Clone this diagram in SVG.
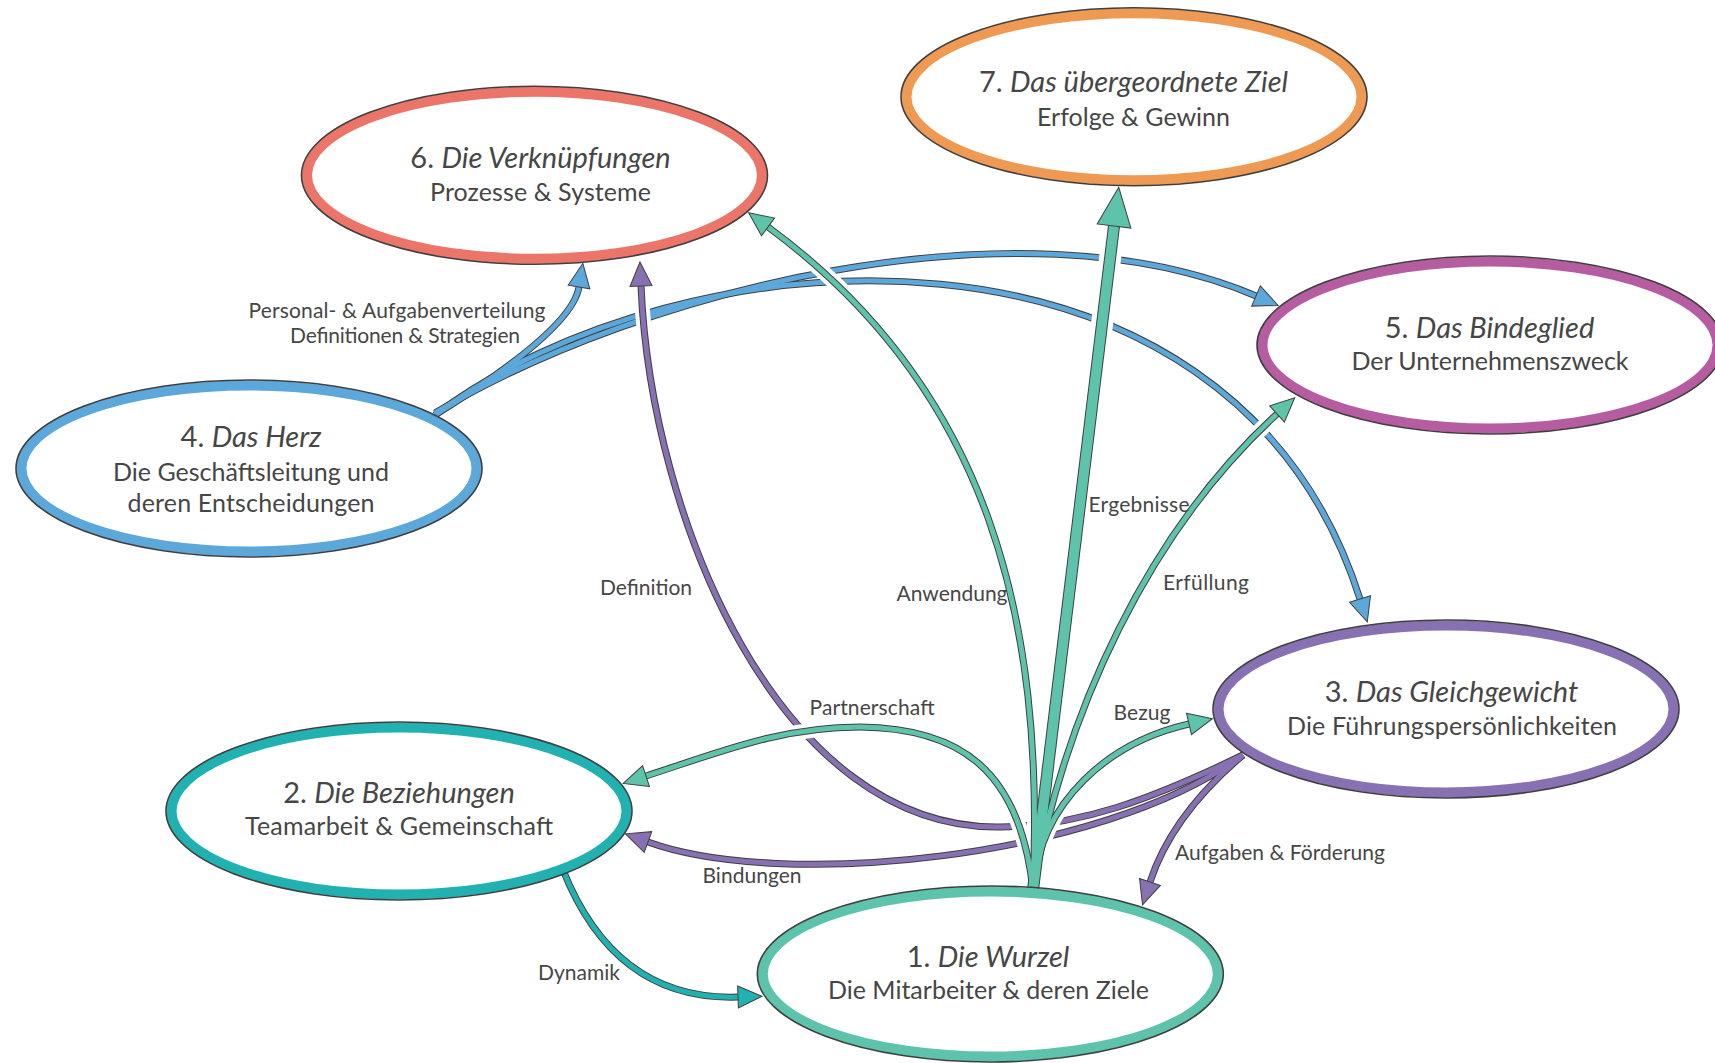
<svg xmlns="http://www.w3.org/2000/svg" width="1715" height="1063" viewBox="0 0 1715 1063">
<defs>
<style>
.halo{fill:none;stroke:#ffffff;stroke-width:15}
.halo-big{fill:none;stroke:#ffffff;stroke-width:22}
.cas{fill:none;stroke:#3f3f3f;stroke-width:7}
.cas-big{fill:none;stroke:#3f3f3f;stroke-width:12}
.c-blue{fill:none;stroke:#5da8db;stroke-width:5}
.c-purple{fill:none;stroke:#8771b3;stroke-width:5}
.c-green{fill:none;stroke:#5dc4ab;stroke-width:5}
.c-green-big{fill:none;stroke:#5dc4ab;stroke-width:10}
.c-teal{fill:none;stroke:#22b1b1;stroke-width:5}
.ring{fill:#ffffff;stroke-width:10}
.outline{fill:none;stroke:#3f3f3f;stroke-width:1.6}
.title{font-family:Lato,"Open Sans",sans-serif;font-size:29px;fill:#464646;text-anchor:middle}
.title .it{font-style:italic}
.sub{font-family:Lato,"Open Sans",sans-serif;font-size:25px;fill:#464646;text-anchor:middle}
.lbl{font-family:Lato,"Open Sans",sans-serif;font-size:21px;fill:#464646;text-anchor:middle}
</style>
<marker id="m-blue" markerUnits="userSpaceOnUse" orient="auto" markerWidth="30" markerHeight="30" refX="0" refY="0" overflow="visible"><path d="M0,-11 L24,0 L0,11 Z" fill="#5da8db" stroke="#3f3f3f" stroke-width="1"/></marker>
<marker id="m-purple" markerUnits="userSpaceOnUse" orient="auto" markerWidth="30" markerHeight="30" refX="0" refY="0" overflow="visible"><path d="M0,-11 L24,0 L0,11 Z" fill="#8771b3" stroke="#3f3f3f" stroke-width="1"/></marker>
<marker id="m-green" markerUnits="userSpaceOnUse" orient="auto" markerWidth="30" markerHeight="30" refX="0" refY="0" overflow="visible"><path d="M0,-11 L24,0 L0,11 Z" fill="#5dc4ab" stroke="#3f3f3f" stroke-width="1"/></marker>
<marker id="m-green-big" markerUnits="userSpaceOnUse" orient="auto" markerWidth="50" markerHeight="50" refX="0" refY="0" overflow="visible"><path d="M0,-17 L39,0 L0,17 Z" fill="#5dc4ab" stroke="#3f3f3f" stroke-width="1"/></marker>
<marker id="m-teal" markerUnits="userSpaceOnUse" orient="auto" markerWidth="30" markerHeight="30" refX="0" refY="0" overflow="visible"><path d="M0,-11 L24,0 L0,11 Z" fill="#22b1b1" stroke="#3f3f3f" stroke-width="1"/></marker>
</defs>
<rect width="1715" height="1063" fill="#ffffff"/>

<g id="connectors">
  <g id="blue-layer">
    <path class="cas" d="M435,415 Q572,330 579,287"/>
    <path class="cas" d="M435,413 C640,290 1020,195 1256,296"/>
    <path class="cas" d="M435,415 C680,230 1230,190 1360,599"/>
    <path class="c-blue" d="M435,415 Q572,330 579,287" marker-end="url(#m-blue)"/>
    <path class="c-blue" d="M435,413 C640,290 1020,195 1256,296" marker-end="url(#m-blue)"/>
    <path class="c-blue" d="M435,415 C680,230 1230,190 1360,599" marker-end="url(#m-blue)"/>
  </g>
  <g id="purple-layer">
    <path class="halo" d="M1243,755 C1150,800 1080,826 1000,827 C780,830 651,520 641,286"/>
    <path class="halo" d="M1243,755 C1100,860 780,890 648,842"/>
    <path class="halo" d="M1243,755 Q1172,815 1150,882"/>
    <path class="cas" d="M1243,755 C1150,800 1080,826 1000,827 C780,830 651,520 641,286"/>
    <path class="cas" d="M1243,755 C1100,860 780,890 648,842"/>
    <path class="cas" d="M1243,755 Q1172,815 1150,882"/>
    <path class="c-purple" d="M1243,755 C1150,800 1080,826 1000,827 C780,830 651,520 641,286" marker-end="url(#m-purple)"/>
    <path class="c-purple" d="M1243,755 C1100,860 780,890 648,842" marker-end="url(#m-purple)"/>
    <path class="c-purple" d="M1243,755 Q1172,815 1150,882" marker-end="url(#m-purple)"/>
  </g>
  <g id="green-layer">
    <path class="halo" d="M1033,890 C1040,800 1110,742 1189,724"/>
    <path class="halo" d="M1033,890 C1065,710 1150,530 1277,414"/>
    <path class="halo-big" d="M1033,890 L1114,226"/>
    <path class="halo" d="M1033,890 C1045,620 990,390 768,227"/>
    <path class="halo" d="M1033,890 C1020,770 960,728 860,727 C780,727 720,752 646,776"/>
    <path class="cas" d="M1033,890 C1040,800 1110,742 1189,724"/>
    <path class="cas" d="M1033,890 C1065,710 1150,530 1277,414"/>
    <path class="cas-big" d="M1033,890 L1114,226"/>
    <path class="cas" d="M1033,890 C1045,620 990,390 768,227"/>
    <path class="cas" d="M1033,890 C1020,770 960,728 860,727 C780,727 720,752 646,776"/>
    <path class="c-green" d="M1033,890 C1040,800 1110,742 1189,724" marker-end="url(#m-green)"/>
    <path class="c-green" d="M1033,890 C1065,710 1150,530 1277,414" marker-end="url(#m-green)"/>
    <path class="c-green-big" d="M1033,890 L1114,226" marker-end="url(#m-green-big)"/>
    <path class="c-green" d="M1033,890 C1045,620 990,390 768,227" marker-end="url(#m-green)"/>
    <path class="c-green" d="M1033,890 C1020,770 960,728 860,727 C780,727 720,752 646,776" marker-end="url(#m-green)"/>
  </g>
  <g id="teal-layer">
    <path class="cas" d="M563,870 C595,950 650,1000 738,997"/>
    <path class="c-teal" d="M563,870 C595,950 650,1000 738,997" marker-end="url(#m-teal)"/>
  </g>
  <g id="connector-labels">
    <text class="lbl" x="397" y="318" textLength="297">Personal- &amp; Aufgabenverteilung</text>
    <text class="lbl" x="405" y="343" textLength="230">Definitionen &amp; Strategien</text>
    <text class="lbl" x="646" y="595" textLength="92">Definition</text>
    <text class="lbl" x="952" y="601" textLength="111">Anwendung</text>
    <text class="lbl" x="1139" y="512" textLength="101">Ergebnisse</text>
    <text class="lbl" x="1206" y="590" textLength="86">Erfüllung</text>
    <text class="lbl" x="872" y="715" textLength="125">Partnerschaft</text>
    <text class="lbl" x="1142" y="720" textLength="57">Bezug</text>
    <text class="lbl" x="752" y="883" textLength="99">Bindungen</text>
    <text class="lbl" x="1280" y="860" textLength="210">Aufgaben &amp; Förderung</text>
    <text class="lbl" x="579" y="980" textLength="82">Dynamik</text>
  </g>
</g>

<g id="node6">
  <ellipse class="ring" cx="534.5" cy="175.3" rx="227.5" ry="83.5" stroke="#ec756a"/>
  <ellipse class="outline" cx="534.5" cy="175.3" rx="233" ry="89"/>
  <text class="title" x="540.5" y="168">6. <tspan class="it">Die Verknüpfungen</tspan></text>
  <text class="sub" x="540.5" y="200.7" textLength="221">Prozesse &amp; Systeme</text>
</g>
<g id="node7">
  <ellipse class="ring" cx="1134" cy="96.7" rx="227.5" ry="83.5" stroke="#ef9a52"/>
  <ellipse class="outline" cx="1134" cy="96.7" rx="233" ry="89"/>
  <text class="title" x="1133.5" y="91.7">7. <tspan class="it">Das übergeordnete Ziel</tspan></text>
  <text class="sub" x="1133.5" y="126" textLength="193">Erfolge &amp; Gewinn</text>
</g>
<g id="node5">
  <ellipse class="ring" cx="1490" cy="345" rx="227.5" ry="83.5" stroke="#b65ca1"/>
  <ellipse class="outline" cx="1490" cy="345" rx="233" ry="89"/>
  <text class="title" x="1489.5" y="338">5. <tspan class="it">Das Bindeglied</tspan></text>
  <text class="sub" x="1490" y="370" textLength="277">Der Unternehmenszweck</text>
</g>
<g id="node4">
  <ellipse class="ring" cx="249" cy="468.5" rx="227.5" ry="83" stroke="#5da8db"/>
  <ellipse class="outline" cx="249" cy="468.5" rx="233" ry="88.5"/>
  <text class="title" x="251" y="447">4. <tspan class="it">Das Herz</tspan></text>
  <text class="sub" x="251" y="480.7" textLength="276">Die Geschäftsleitung und</text>
  <text class="sub" x="251" y="511.7" textLength="247">deren Entscheidungen</text>
</g>
<g id="node3">
  <ellipse class="ring" cx="1446" cy="709" rx="227.5" ry="83.5" stroke="#8771b3"/>
  <ellipse class="outline" cx="1446" cy="709" rx="233" ry="89"/>
  <text class="title" x="1451.5" y="701.7">3. <tspan class="it">Das Gleichgewicht</tspan></text>
  <text class="sub" x="1452" y="735" textLength="330">Die Führungspersönlichkeiten</text>
</g>
<g id="node2">
  <ellipse class="ring" cx="399" cy="811" rx="227.5" ry="83.5" stroke="#22b1b1"/>
  <ellipse class="outline" cx="399" cy="811" rx="233" ry="89"/>
  <text class="title" x="399" y="803">2. <tspan class="it">Die Beziehungen</tspan></text>
  <text class="sub" x="399" y="835" textLength="308">Teamarbeit &amp; Gemeinschaft</text>
</g>
<g id="node1">
  <ellipse class="ring" cx="990.3" cy="974" rx="227.5" ry="82.5" stroke="#5dc4ab"/>
  <ellipse class="outline" cx="990.3" cy="974" rx="233" ry="88"/>
  <text class="title" x="988" y="966.7">1. <tspan class="it">Die Wurzel</tspan></text>
  <text class="sub" x="988.5" y="999.3" textLength="321">Die Mitarbeiter &amp; deren Ziele</text>
</g>
</svg>
